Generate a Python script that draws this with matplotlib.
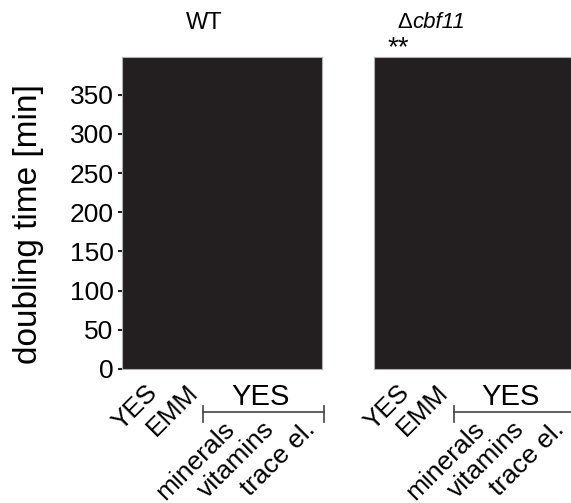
import numpy as np
import matplotlib
matplotlib.use("Agg")
import matplotlib.pyplot as plt

plt.rcParams['font.family'] = ['Liberation Sans', 'DejaVu Sans']

# growth media per strain; the last three are YES lacking one component
media = ['YES', 'EMM', 'minerals', 'vitamins', 'trace el.']
dropout_group = 'YES'
strains = ['WT', 'cbf11']
deleted = [False, True]
stars = ['', '**']
yticks = [0, 50, 100, 150, 200, 250, 300, 350]

fig = plt.figure(figsize=(5.71, 5.03), dpi=100)
ax1 = fig.add_axes([122/571, 134/503, 200/571, 312/503])
ax2 = fig.add_axes([374/571, 134/503, 197/571, 312/503])

title_x = [1.19, 0.12]
x = np.arange(len(media))

for i, ax in enumerate([ax1, ax2]):
    ax.set_facecolor('#231f20')
    ax.set_xlim(-0.86, 4.14)
    ax.set_ylim(0, 398)
    for s in ax.spines.values():
        s.set_color('#b0b0b0')
        s.set_linewidth(0.8)
    ax.set_xticks(x)
    ax.set_xticklabels([])
    ax.tick_params(axis='x', length=0)
    tr = ax.get_xaxis_transform()
    # first two labels sit right under the axis, dropouts below the bracket
    for j, m in enumerate(media):
        if j < 2:
            y0, dx = -0.035, 0.15
        else:
            y0, dx = -0.155, 0.08
        ax.text(x[j] + dx, y0, m, transform=tr, rotation=45, ha='right', va='top',
                fontsize=19, clip_on=False)
    # bracket over the dropout media
    xl, xr = 1.16, 4.2
    ax.plot([xl, xr], [-0.139, -0.139], transform=tr, color='#444444', lw=1.2, clip_on=False)
    for xc in (xl, xr):
        ax.plot([xc, xc], [-0.117, -0.170], transform=tr, color='#444444', lw=1.2, clip_on=False)
    ax.text(2.6, -0.09, dropout_group, transform=tr, ha='center', va='center',
            fontsize=21, clip_on=False)
    if deleted[i]:
        # upright delta followed by the italic gene name
        ax.text(title_x[i], 1.109, '\u0394', transform=tr, ha='right', va='center',
                fontsize=16)
        ax.text(title_x[i], 1.109, strains[i], transform=tr, ha='left', va='center',
                fontsize=16, style='italic')
    else:
        ax.text(title_x[i], 1.109, strains[i], transform=tr, ha='center', va='center',
                fontsize=17)
    if stars[i]:
        ax.text(-0.25, 1.027, stars[i], transform=tr, ha='center', va='center', fontsize=20)

ax1.set_yticks(yticks)
ax1.tick_params(axis='y', length=3, width=1.5, color='#231f20', pad=3, labelsize=19)
ax2.set_yticks([])
fig.text(29/571, 1 - 224/503, 'doubling time [min]', rotation=90, ha='center',
         va='center', fontsize=24)

fig.savefig('out.png', dpi=100)
